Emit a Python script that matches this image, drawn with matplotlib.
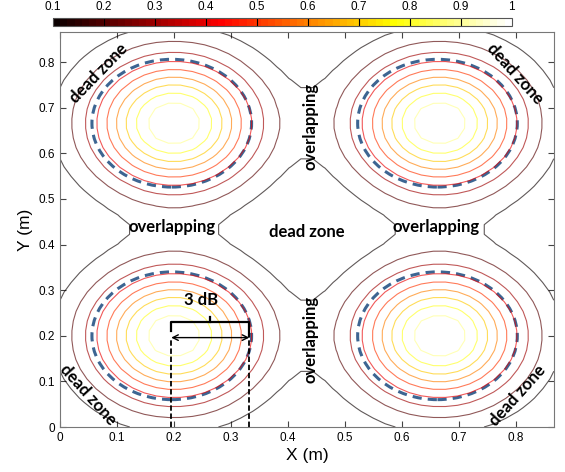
import numpy as np
import matplotlib
matplotlib.use("Agg")
import matplotlib.pyplot as plt
from matplotlib.patches import Ellipse
from matplotlib.colors import Normalize
from matplotlib.cm import ScalarMappable

plt.rcParams['font.family'] = ['Liberation Sans', 'DejaVu Sans']

# room size and the four beam centres (m)
room = 0.866
centres_x = [0.2, 0.2, 0.666, 0.666]
centres_y = [0.2, 0.666, 0.2, 0.666]
beam_sigma = 0.1          # gaussian width of each spot
levels = [0.1, 0.2, 0.3, 0.4, 0.5, 0.6, 0.7, 0.8, 0.9]
cbar_ticks = [0.1, 0.2, 0.3, 0.4, 0.5, 0.6, 0.7, 0.8, 0.9, 1.0]
cbar_labels = ['0.1', '0.2', '0.3', '0.4', '0.5', '0.6', '0.7', '0.8', '0.9', '1']
r3db = 0.14               # 3 dB radius
xticks = [0, 0.1, 0.2, 0.3, 0.4, 0.5, 0.6, 0.7, 0.8]

# field on a coarse grid
g = np.linspace(0, room, 42)
X, Y = np.meshgrid(g, g)
Z = np.zeros_like(X)
for cx, cy in zip(centres_x, centres_y):
    Z += np.exp(-((X - cx)**2 + (Y - cy)**2) / (2 * beam_sigma**2))

fig = plt.figure(figsize=(5.65, 4.72), dpi=100)
ax = fig.add_axes([0.1062, 0.0953, 0.874, 0.837])
cmap = plt.get_cmap('hot', 64)
norm = Normalize(0.1, 1.0)
ax.contour(X, Y, Z, levels=levels, cmap=cmap, norm=norm, linewidths=0.8,
           alpha=0.65)

for cx, cy in zip(centres_x, centres_y):
    ax.add_patch(Ellipse((cx - 0.004, cy), 2*r3db, 2*r3db, fill=False,
                         ec='#3d6592', lw=2.2, ls=(0, (3.0, 2.0))))

# 3 dB annotation
ax.plot([0.195, 0.195], [0, 0.195], 'k--', lw=1.3, dashes=(3, 1.5))
ax.plot([0.332, 0.332], [0, 0.23], 'k--', lw=1.3, dashes=(3, 1.5))
ax.plot([0.195, 0.195, 0.332, 0.332], [0.21, 0.23, 0.23, 0.2], 'k-', lw=1.6)
ax.plot([0.263, 0.263], [0.23, 0.242], 'k-', lw=1.6)
ax.annotate('', xy=(0.332, 0.196), xytext=(0.195, 0.196),
            arrowprops=dict(arrowstyle='<->', lw=1.0, color='k',
                            shrinkA=0, shrinkB=0))
tkw = dict(family=['Lato', 'DejaVu Sans'], fontweight='bold', fontsize=12,
           ha='center', va='center')
ax.text(0.247, 0.278, '3 dB', **tkw)

ax.text(0.068, 0.775, 'dead zone', rotation=46, **tkw)
ax.text(0.798, 0.775, 'dead zone', rotation=-48, **tkw)
ax.text(0.049, 0.070, 'dead zone', rotation=-48, **tkw)
ax.text(0.803, 0.068, 'dead zone', rotation=48, **tkw)
ax.text(0.432, 0.427, 'dead zone', **tkw)
ax.text(0.196, 0.438, 'overlapping', **tkw)
ax.text(0.660, 0.438, 'overlapping', **tkw)
ax.text(0.439, 0.659, 'overlapping', rotation=90, **tkw)
ax.text(0.439, 0.193, 'overlapping', rotation=90, **tkw)

ax.set_xlim(0, room)
ax.set_ylim(0, room)
ax.set_xticks(xticks)
ax.set_yticks(xticks)
ax.set_xticklabels([f'{t:g}' for t in xticks])
ax.set_yticklabels([f'{t:g}' for t in xticks])
ax.tick_params(direction='in', top=True, right=True, labelsize=8.5,
               length=4, color='#444444')
for s in ax.spines.values():
    s.set_color('#777777')
ax.set_xlabel('X (m)', fontsize=12.5, labelpad=3)
ax.set_ylabel('Y (m)', fontsize=12.5, labelpad=4)

# colorbar on top
cax = fig.add_axes([0.0938, 0.9456, 0.812, 0.017])
cb = fig.colorbar(ScalarMappable(norm=norm, cmap=cmap), cax=cax,
                  orientation='horizontal')
cax.xaxis.set_ticks_position('top')
cb.set_ticks(cbar_ticks)
cb.set_ticklabels(cbar_labels)
cax.tick_params(length=0, labelsize=8.5, pad=3)
for lv in levels[1:]:
    cax.axvline(lv, color='k', lw=0.8)
cb.outline.set_edgecolor('#555555')
cb.outline.set_linewidth(0.8)

fig.savefig('out.png', dpi=100)
